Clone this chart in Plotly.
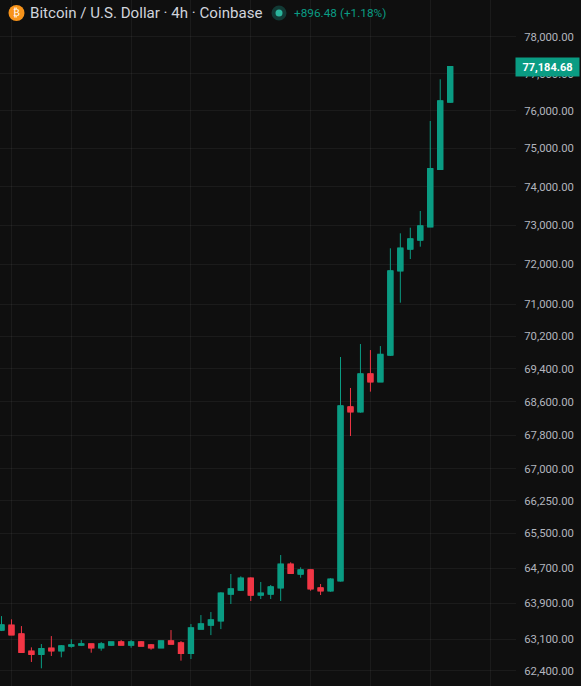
import math
import plotly.graph_objects as go

W, H = 581, 686
BG = "#0f0f0f"
UP = "#0a9c83"
DOWN = "#f23645"

opens = [63305,63410,63216,62833,62767,62899,62847,62950,62972,62994,62913,62972,63038,62972,63038,62972,62913,63060,63016,62789,
         63327,63417,63512,64114,64204,64469,64091,64114,64256,64787,64567,64658,64249,64188,64414,68476,68363,69274,69087,69740,
         71841,72392,72621,72962,74451,76235]
highs = [63617,63544,63394,62921,62994,63171,62972,63098,63082,62994,63038,63038,63082,63082,63060,62994,63060,63305,63060,63439,
         63640,63708,64152,64567,64514,64491,64385,64317,64999,64833,64719,64670,64340,64469,69691,68936,70010,69862,69960,72409,
         72792,72936,73366,75727,76847,77184.68]
lows = [63283,63195,62803,62598,62459,62730,62701,62913,62950,62803,62847,62950,62972,62913,62950,62869,62913,62994,62627,62664,
        63327,63193,63327,63888,64181,63956,64001,64001,63956,64582,64482,64188,64091,64166,64396,67780,68339,68847,69087,69715,
        71036,72137,72450,72954,74451,76217]
closes = [63417,63200,62811,62767,62891,62847,62950,62972,62994,62913,62994,63038,62972,63038,62950,62913,63060,62994,62789,63350,
          63439,63528,64130,64227,64469,64091,64130,64272,64787,64582,64658,64234,64188,64446,68500,68363,69274,69087,69754,71833,
          72409,72647,72980,74467,76262,77184.68]
price_ticks = [78000,77000,76000,75000,74000,73000,72000,71000,70200,69400,68600,67800,67000,66250,65500,64700,63900,63100,62400]
day_grid = [1,7,13,19,25,31,37,43,49]
last_price = 77184.68
title = "Bitcoin / U.S. Dollar · 4h · Coinbase"
change = "+896.48 (+1.18%)"

xs = list(range(len(opens)))
fig = go.Figure()
# wicks
fig.add_trace(go.Candlestick(
    x=xs, open=opens, high=highs, low=lows, close=closes,
    increasing=dict(line=dict(color=UP, width=1), fillcolor=UP),
    decreasing=dict(line=dict(color=DOWN, width=1), fillcolor=DOWN),
    whiskerwidth=0, hoverinfo="skip", showlegend=False,
))
# bodies, same candles with the wicks clipped to the body and a thicker outline
fig.add_trace(go.Candlestick(
    x=xs, open=opens, close=closes,
    high=[max(o, c) for o, c in zip(opens, closes)],
    low=[min(o, c) for o, c in zip(opens, closes)],
    increasing=dict(line=dict(color=UP, width=1.5), fillcolor=UP),
    decreasing=dict(line=dict(color=DOWN, width=1.5), fillcolor=DOWN),
    whiskerwidth=0, hoverinfo="skip", showlegend=False,
))

def px(x): return x / W
def py(y): return 1 - y / H

GRID = "rgba(255,255,255,0.05)"
fig.update_layout(
    width=W, height=H, margin=dict(l=0, r=0, t=0, b=0),
    paper_bgcolor=BG, plot_bgcolor=BG, showlegend=False,
    font=dict(family="Roboto, sans-serif"),
    xaxis=dict(domain=[0, 516 / W], range=[-0.15, 51.6], rangeslider=dict(visible=False),
               tickmode="array", tickvals=day_grid, showticklabels=False, ticks="",
               showgrid=True, gridcolor=GRID, gridwidth=1, zeroline=False, showline=False),
    yaxis=dict(type="log", side="right", anchor="x",
               range=[math.log10(62071), math.log10(79022)],
               tickmode="array", tickvals=price_ticks, ticktext=[f"{v:,.2f}" for v in price_ticks],
               tickfont=dict(size=11.3, color="#b2b5be"), ticks="outside", ticklen=5, tickcolor="rgba(0,0,0,0)",
               showgrid=True, gridcolor=GRID, gridwidth=1, zeroline=False, showline=False),
    shapes=[
        dict(type="circle", xref="paper", yref="paper", x0=px(8.5), x1=px(24.5), y0=py(21), y1=py(5),
             fillcolor="#f7931a", line=dict(width=0)),
        dict(type="circle", xref="paper", yref="paper", x0=px(271.5), x1=px(286.5), y0=py(20.5), y1=py(5.5),
             fillcolor="#123a35", line=dict(width=0)),
        dict(type="circle", xref="paper", yref="paper", x0=px(275.5), x1=px(282.5), y0=py(16.5), y1=py(9.5),
             fillcolor="#2bb59c", line=dict(width=0)),
    ],
    annotations=[
        dict(xref="paper", yref="paper", x=px(16.5), y=py(13), text="₿", showarrow=False,
             font=dict(size=10, color="#ffffff", family="DejaVu Sans"), xanchor="center", yanchor="middle"),
        dict(xref="paper", yref="paper", x=px(27.5), y=py(13), text=title, showarrow=False,
             font=dict(size=15.1, color="#d1d4dc"), xanchor="left", yanchor="middle"),
        dict(xref="paper", yref="paper", x=px(292.5), y=py(13), text=change, showarrow=False,
             font=dict(size=11.8, color=UP), xanchor="left", yanchor="middle"),
        dict(xref="paper", yref="y", x=px(547.5), y=math.log10(last_price), text=f"<b>{last_price:,.2f}</b>",
             showarrow=False, font=dict(size=11, color="#ffffff"), bgcolor=UP, borderpad=2.5,
             xanchor="center", yanchor="middle", width=58),
    ],
)

fig.write_html("out.html", post_script="document.body.style.margin='0';document.body.style.overflow='hidden';",
               config=dict(displayModeBar=False))
